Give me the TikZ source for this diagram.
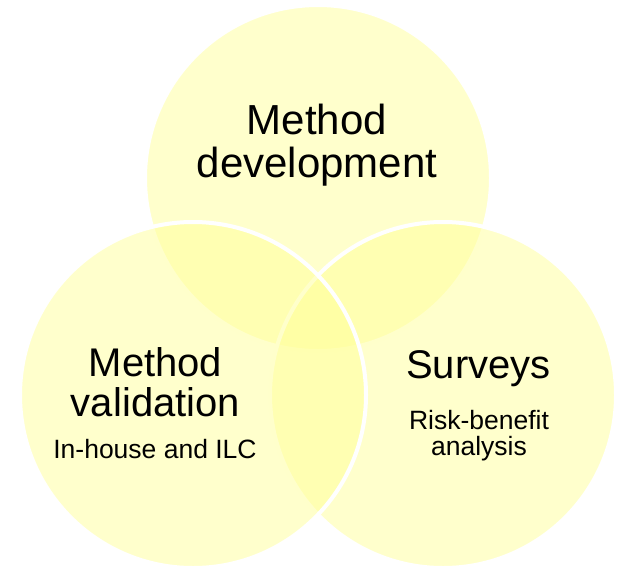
\documentclass[tikz,border=0pt]{standalone}
\usepackage{fontspec}
\setmainfont{Liberation Sans}
\definecolor{venn}{RGB}{255,255,153}

\begin{document}
\begin{tikzpicture}[x=1pt,y=-1pt,
  big/.style={font=\fontsize{40}{40}\selectfont},
  small/.style={font=\fontsize{26.5}{26}\selectfont}]
\useasboundingbox (0,0) rectangle (617,565);
 \begin{scope}[every node/.style={circle, draw=white, line width=4pt, fill=venn,
                      fill opacity=0.5, draw opacity=1, minimum size=346pt, inner sep=0pt}]
  \node (dev) at (318,178) {};
  \node (sur) at (443,395) {};
  \node (val) at (193,395) {};
 \end{scope}
 \begin{scope}[every node/.style={anchor=base, inner sep=0pt}]
  \node[font=\fontsize{42}{42}\selectfont] (deva) at (317,134) {Method};
  \node[font=\fontsize{42}{42}\selectfont] (devb) at (317,177) {development};
  \node[big] (vala) at (155.5,376.7) {Method};
  \node[big] (valb) at (155.5,416) {validation};
  \node[small] (valc) at (155,458.3) {In-house and ILC};
  \node[big] (sura) at (478.5,378) {Surveys};
  \node[small] (surb) at (479,429.3) {Risk-benefit};
  \node[small] (surc) at (479,455) {analysis};
 \end{scope}
\end{tikzpicture}
\end{document}
